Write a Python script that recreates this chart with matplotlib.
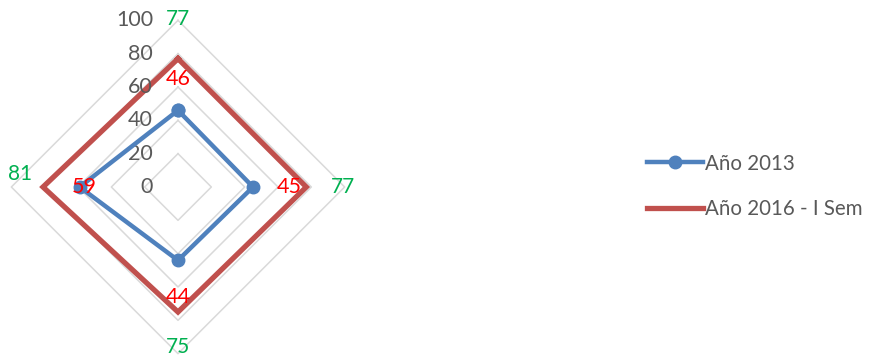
import numpy as np
import matplotlib.pyplot as plt

# categories go clockwise from the top spoke
categories = ['77', '77', '75', '81']
serie_2013 = [46, 45, 44, 59]
serie_2016 = [77, 77, 75, 81]
rings = [0, 20, 40, 60, 80, 100]

angles = np.deg2rad([90, 0, -90, 180])

plt.rcParams['font.family'] = ['Lato', 'DejaVu Sans']

def to_xy(r):
    r = np.asarray(r, dtype=float)
    x = r * np.cos(angles)
    y = r * np.sin(angles)
    return np.append(x, x[0]), np.append(y, y[0])

fig = plt.figure(figsize=(8.73, 3.56), dpi=100)
ax = fig.add_axes([0, 0, 1, 1])
ax.set_xlim(-106.8, 417)
ax.set_ylim(-101.4, 112.2)
ax.set_aspect('equal')
ax.axis('off')

# diamond grid
for r in rings[1:]:
    gx, gy = to_xy([r] * 4)
    ax.plot(gx, gy, color='#d9d9d9', lw=1.1, zorder=1)

# value axis labels
for r in rings:
    ax.text(-15, r, str(r), ha='right', va='center', fontsize=15.5, color='#595959')

bx, by = to_xy(serie_2013)
ax.plot(bx, by, color='#4f81bd', lw=3.2, marker='o', markersize=9,
        solid_joinstyle='miter', label='Año 2013', zorder=3)
rx, ry = to_xy(serie_2016)
ax.plot(rx, ry, color='#c0504d', lw=3.8, solid_joinstyle='miter',
        label='Año 2016 - I Sem', zorder=2)

# category labels around the outer ring
cat_r = [101, 99, 96, 95]
cat_dy = [0, 0, 0, 8]
for a, r, dy, txt in zip(angles, cat_r, cat_dy, categories):
    ax.text(r * np.cos(a), r * np.sin(a) + dy, txt, ha='center', va='center',
            fontsize=15, color='#00b050')

# data labels of 2013
lab_r = [65, 67, 66, 56]
for a, r, v in zip(angles, lab_r, serie_2013):
    ax.text(r * np.cos(a), r * np.sin(a), str(v), ha='center', va='center',
            fontsize=15.5, color='#ff0000', zorder=4)

leg = ax.legend(loc='center left', bbox_to_anchor=(647 / 873, 1 - 186.5 / 356),
                bbox_transform=fig.transFigure, frameon=False, fontsize=14.8,
                handlelength=2.72, handletextpad=0.12, labelspacing=1.25,
                borderpad=0, borderaxespad=0)
for t in leg.get_texts():
    t.set_color('#595959')

fig.savefig('out.png', dpi=100)
